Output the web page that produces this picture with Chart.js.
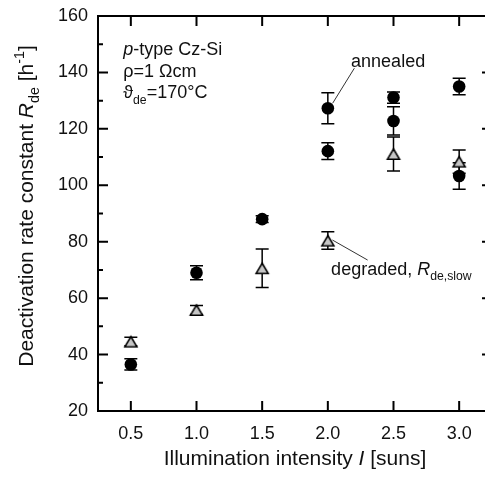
<!DOCTYPE html>
<html>
<head>
<meta charset="utf-8">
<script src="https://cdn.jsdelivr.net/npm/chart.js@4/dist/chart.umd.min.js"></script>
<style>
  html, body { margin: 0; padding: 0; background: #fff; overflow: hidden; }
  canvas { display: block; }
</style>
</head>
<body>
<canvas id="c" width="500" height="480"></canvas>
<script>
// ---- data ----
const xTickValues = [0.5, 1.0, 1.5, 2.0, 2.5, 3.0];
const yTickValues = [20, 40, 60, 80, 100, 120, 140, 160];

const annealedX   = [0.5, 1.0, 1.5, 2.0, 2.0, 2.5, 2.5, 3.0, 3.0];
const annealedY   = [36.5, 69.0, 88.0, 127.3, 112.1, 131.1, 122.8, 135.0, 103.3];
const annealedErr = [2.0, 2.5, 1.2, 5.5, 3.0, 2.0, 5.0, 2.9, 4.7];

const degradedX   = [0.5, 1.0, 1.5, 2.0, 2.5, 3.0];
const degradedY   = [44.6, 55.8, 70.6, 80.4, 111.1, 108.4];
const degradedErr = [1.5, 1.6, 6.8, 3.1, 6.0, 4.1];

const FONT = '"Liberation Sans", Arial, Helvetica, sans-serif';
const INK = '#111';

function makeTriangle() {
  const c = document.createElement('canvas');
  c.width = 18; c.height = 18;
  const g = c.getContext('2d');
  g.beginPath();
  g.moveTo(9, 4); g.lineTo(15, 14.2); g.lineTo(3, 14.2); g.closePath();
  g.fillStyle = '#c6c6c6'; g.fill();
  g.lineWidth = 1.6; g.lineJoin = 'miter'; g.strokeStyle = '#000'; g.stroke();
  return c;
}

// rich text helpers
function segFont(s, size) {
  const sz = (s.sub || s.sup) ? size * 0.68 : size;
  return (s.i ? 'italic ' : '') + sz + 'px ' + FONT;
}
function richWidth(ctx, segs, size) {
  let w = 0;
  segs.forEach(s => { ctx.font = segFont(s, size); w += ctx.measureText(s.t).width; });
  return w;
}
function drawRich(ctx, segs, x, y, size, align) {
  let w = richWidth(ctx, segs, size);
  let cx = align === 'center' ? x - w / 2 : x;
  ctx.textAlign = 'left';
  ctx.textBaseline = 'alphabetic';
  segs.forEach(s => {
    ctx.font = segFont(s, size);
    let dy = s.sub ? size * 0.3 : (s.sup ? -size * 0.42 : 0);
    ctx.fillText(s.t, cx, y + dy);
    cx += ctx.measureText(s.t).width;
  });
}

const series = [
  { x: annealedX, y: annealedY, err: annealedErr },
  { x: degradedX, y: degradedY, err: degradedErr }
];

// annotation anchors in data units
const notes = [
  { at: [0.442, 146.2], segs: [{t: 'p', i: true}, {t: '-type Cz-Si'}] },
  { at: [0.442, 138.5], segs: [{t: 'ρ=1 Ωcm'}] },
  { at: [0.442, 130.8], segs: [{t: 'ϑ'}, {t: 'de', sub: true}, {t: '=170°C'}] },
  { at: [2.177, 142.0], segs: [{t: 'annealed'}] },
  { at: [2.025, 68.2], segs: [{t: 'degraded, '}, {t: 'R', i: true}, {t: 'de,slow', sub: true}] }
];
const leaders = [
  [[2.202, 141.5], [2.037, 129.1]],
  [[2.035, 80.6], [2.303, 73.5]]
];

const decor = {
  id: 'decor',
  beforeDatasetsDraw(chart) {
    const { ctx, scales: { x, y } } = chart;
    ctx.save();
    ctx.strokeStyle = '#000';
    ctx.lineWidth = 1.5;
    series.forEach(s => {
      s.x.forEach((xv, i) => {
        const px = x.getPixelForValue(xv);
        const t = y.getPixelForValue(s.y[i] + s.err[i]);
        const b = y.getPixelForValue(s.y[i] - s.err[i]);
        ctx.beginPath();
        ctx.moveTo(px, t); ctx.lineTo(px, b);
        ctx.moveTo(px - 6.5, t); ctx.lineTo(px + 6.5, t);
        ctx.moveTo(px - 6.5, b); ctx.lineTo(px + 6.5, b);
        ctx.stroke();
      });
    });
    ctx.restore();
  },
  afterDraw(chart) {
    const { ctx, chartArea: a, scales: { x, y } } = chart;
    ctx.save();
    // frame
    ctx.strokeStyle = '#000';
    ctx.lineWidth = 2;
    ctx.strokeRect(a.left, a.top, a.right - a.left, a.bottom - a.top);
    // y ticks (inward), major + minor
    ctx.beginPath();
    yTickValues.forEach((v, k) => {
      const py = y.getPixelForValue(v);
      ctx.moveTo(a.left, py); ctx.lineTo(a.left + 10, py);
      ctx.moveTo(a.right, py); ctx.lineTo(a.right - 10, py);
      if (k < yTickValues.length - 1) {
        const pm = y.getPixelForValue((v + yTickValues[k + 1]) / 2);
        ctx.moveTo(a.left, pm); ctx.lineTo(a.left + 5, pm);
        ctx.moveTo(a.right, pm); ctx.lineTo(a.right - 5, pm);
      }
    });
    xTickValues.forEach(v => {
      const px = x.getPixelForValue(v);
      ctx.moveTo(px, a.bottom); ctx.lineTo(px, a.bottom - 10);
      ctx.moveTo(px, a.top); ctx.lineTo(px, a.top + 10);
    });
    ctx.stroke();

    // leader lines
    ctx.strokeStyle = '#333';
    ctx.lineWidth = 1;
    leaders.forEach(([p, q]) => {
      ctx.beginPath();
      ctx.moveTo(x.getPixelForValue(p[0]), y.getPixelForValue(p[1]));
      ctx.lineTo(x.getPixelForValue(q[0]), y.getPixelForValue(q[1]));
      ctx.stroke();
    });

    // annotations
    ctx.fillStyle = INK;
    notes.forEach(n => {
      drawRich(ctx, n.segs, x.getPixelForValue(n.at[0]), y.getPixelForValue(n.at[1]), 18, 'left');
    });

    // axis titles
    drawRich(ctx, [{t: 'Illumination intensity '}, {t: 'I', i: true}, {t: ' [suns]'}],
      (a.left + a.right) / 2, 465, 21, 'center');
    ctx.translate(33, 206);
    ctx.rotate(-Math.PI / 2);
    drawRich(ctx, [{t: 'Deactivation rate constant '}, {t: 'R', i: true}, {t: 'de', sub: true},
      {t: ' [h'}, {t: '-1', sup: true}, {t: ']'}], 0, 0, 21, 'center');
    ctx.restore();
  }
};

const triangle = makeTriangle();

new Chart(document.getElementById('c'), {
  type: 'scatter',
  data: {
    datasets: [
      {
        label: 'annealed',
        data: annealedX.map((v, i) => ({ x: v, y: annealedY[i] })),
        pointStyle: 'circle',
        pointRadius: 6.3,
        backgroundColor: '#000',
        borderColor: '#000',
        borderWidth: 0,
        order: 1
      },
      {
        label: 'degraded',
        data: degradedX.map((v, i) => ({ x: v, y: degradedY[i] })),
        pointStyle: triangle,
        pointRadius: 7,
        backgroundColor: '#c6c6c6',
        borderColor: '#000',
        order: 0
      }
    ]
  },
  options: {
    responsive: false,
    animation: false,
    devicePixelRatio: 1,
    events: [],
    layout: { padding: { top: 16, right: 7, left: 0, bottom: 0 } },
    plugins: { legend: { display: false }, tooltip: { enabled: false } },
    scales: {
      x: {
        type: 'linear',
        min: 0.25, max: 3.25,
        grid: { display: false, drawTicks: false },
        border: { display: false },
        afterBuildTicks: ax => { ax.ticks = xTickValues.map(v => ({ value: v })); },
        afterFit: ax => { ax.height = 69; ax.paddingLeft = 0; ax.paddingRight = 0; },
        ticks: {
          padding: 12,
          color: INK,
          font: { family: FONT, size: 18 },
          callback: v => Number(v).toFixed(1)
        }
      },
      y: {
        type: 'linear',
        min: 20, max: 160,
        grid: { display: false, drawTicks: false },
        border: { display: false },
        afterBuildTicks: ax => { ax.ticks = yTickValues.map(v => ({ value: v })); },
        afterFit: ax => { ax.width = 98; ax.paddingTop = 0; ax.paddingBottom = 0; },
        ticks: {
          padding: 10,
          color: INK,
          font: { family: FONT, size: 18 },
          callback: v => String(v)
        }
      }
    }
  },
  plugins: [decor]
});
</script>
</body>
</html>
